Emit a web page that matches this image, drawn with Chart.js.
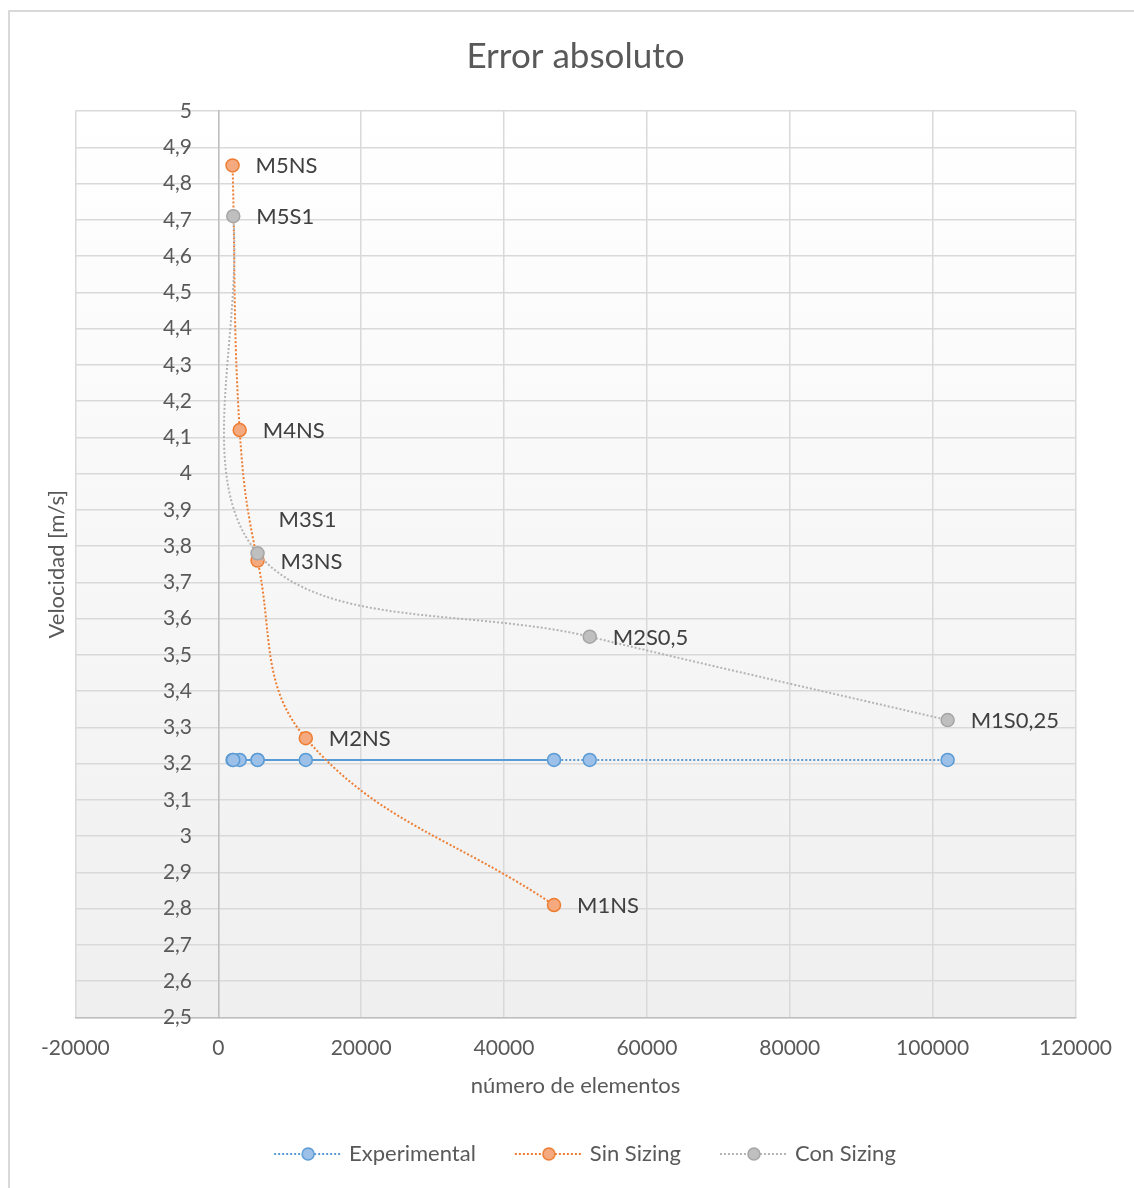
<!DOCTYPE html>
<html>
<head>
<meta charset="utf-8">
<title>Error absoluto</title>
<script src="https://cdn.jsdelivr.net/npm/chart.js@4.4.1/dist/chart.umd.min.js"></script>
<style>
  html, body { margin: 0; padding: 0; background: #fff; overflow: hidden; }
  #wrap { position: relative; width: 1134px; height: 1188px; }
  #frame { position: absolute; left: 8px; top: 10px; width: 1140px; height: 1200px;
           border: 2px solid #d9d9d9; box-sizing: border-box; pointer-events: none; }
  canvas { display: block; }
</style>
</head>
<body>
<div id="wrap">
  <canvas id="chart" width="1134" height="1188"></canvas>
  <div id="frame"></div>
</div>
<script>
// --- datos ---
const sinX      = [2000, 3000, 5500, 12250, 47000];
const sinY      = [4.85, 4.12, 3.76, 3.27, 2.81];
const sinLabels = ['M5NS', 'M4NS', 'M3NS', 'M2NS', 'M1NS'];

const conX      = [2100, 5500, 52000, 102100];
const conY      = [4.71, 3.78, 3.55, 3.32];
const conLabels = ['M5S1', 'M3S1', 'M2S0,5', 'M1S0,25'];

const expX      = [2000, 3000, 5500, 12250, 47000, 2100, 5500, 52000, 102100];
const expY      = [3.21, 3.21, 3.21, 3.21, 3.21, 3.21, 3.21, 3.21, 3.21];

const seriesNames = ['Experimental', 'Sin Sizing', 'Con Sizing'];

const FONT = 'Lato, "Open Sans", sans-serif';
const TEXT = '#595959';

const toPoints = (xs, ys) => xs.map((x, i) => ({ x, y: ys[i] }));

// muestra de leyenda: línea punteada con el marcador en el centro
function legendSample(line, fill, border) {
  const c = document.createElement('canvas');
  c.width = 91; c.height = 16;
  const g = c.getContext('2d');
  g.strokeStyle = line;
  g.lineWidth = 2;
  g.setLineDash([2, 2]);
  g.beginPath(); g.moveTo(23, 8); g.lineTo(91, 8); g.stroke();
  g.setLineDash([]);
  g.beginPath(); g.arc(57, 8, 6, 0, Math.PI * 2);
  g.fillStyle = fill; g.fill();
  g.lineWidth = 1.5; g.strokeStyle = border; g.stroke();
  return c;
}

const colors = [
  { line: '#5b9bd5', fill: '#9cc0e8', border: '#5b9bd5' },
  { line: '#ed7d31', fill: '#f4a97f', border: '#ed7d31' },
  { line: '#b4b4b4', fill: '#bfbfbf', border: '#a5a5a5' }
];
const samples = colors.map(c => legendSample(c.line, c.fill, c.border));

// fondo degradado del área de trazado
const plotBackground = {
  id: 'plotBackground',
  beforeDraw(chart) {
    const { ctx, chartArea: a } = chart;
    const grad = ctx.createLinearGradient(0, a.top, 0, a.bottom);
    grad.addColorStop(0, '#ffffff');
    grad.addColorStop(1, '#efefef');
    ctx.save();
    ctx.fillStyle = grad;
    ctx.fillRect(a.left, a.top, a.right - a.left, a.bottom - a.top);
    ctx.restore();
  }
};

// etiquetas de cada punto (nombre de la malla)
const pointLabels = {
  id: 'pointLabels',
  afterDatasetsDraw(chart, args, opts) {
    const { ctx } = chart;
    ctx.save();
    ctx.font = '22px ' + FONT;
    ctx.fillStyle = '#404040';
    ctx.textAlign = 'left';
    ctx.textBaseline = 'middle';
    chart.data.datasets.forEach((ds, di) => {
      if (!ds.pointNames) return;
      const meta = chart.getDatasetMeta(di);
      meta.data.forEach((pt, i) => {
        const off = (opts.offsets[ds.pointNames[i]]) || opts.offset;
        ctx.fillText(ds.pointNames[i], pt.x + off[0], pt.y + off[1]);
      });
    });
    ctx.restore();
  }
};

const dotted = { borderWidth: 2, borderDash: [2, 2], pointRadius: 6.5, pointHoverRadius: 6.5, pointBorderWidth: 1.5 };

new Chart(document.getElementById('chart'), {
  type: 'scatter',
  data: {
    datasets: [
      {
        label: seriesNames[0], data: toPoints(expX, expY), yAxisID: 'y', order: 3,
        showLine: true, tension: 0, ...dotted,
        // el tramo de vuelta se superpone y se ve continuo
        segment: { borderDash: c => (c.p1.parsed.x < c.p0.parsed.x ? [] : undefined) },
        borderColor: colors[0].line, pointBackgroundColor: colors[0].fill, pointBorderColor: colors[0].border
      },
      {
        label: seriesNames[1], data: toPoints(sinX, sinY), yAxisID: 'y', order: 2, pointNames: sinLabels,
        showLine: true, tension: 0.4, ...dotted,
        borderColor: colors[1].line, pointBackgroundColor: colors[1].fill, pointBorderColor: colors[1].border
      },
      {
        label: seriesNames[2], data: toPoints(conX, conY), yAxisID: 'y', order: 1, pointNames: conLabels,
        showLine: true, tension: 0.36, ...dotted,
        borderColor: colors[2].line, pointBackgroundColor: colors[2].fill, pointBorderColor: colors[2].border
      }
    ]
  },
  options: {
    responsive: false,
    animation: false,
    devicePixelRatio: 1,
    layout: { padding: { left: 26, right: 58.5, top: 0, bottom: 13 } },
    scales: {
      x: {
        type: 'linear', position: 'bottom', min: -20000, max: 120000,
        grid: { color: '#d9d9d9', lineWidth: 1.5, drawTicks: false },
        border: { color: '#bfbfbf', width: 1.5 },
        ticks: { stepSize: 20000, padding: 18, maxRotation: 0, color: TEXT,
                 font: { family: FONT, size: 21 }, callback: v => String(v) },
        title: { display: true, text: 'número de elementos', color: TEXT,
                 font: { family: FONT, size: 22 }, padding: { top: -6, bottom: 24 } }
      },
      y: {
        type: 'linear', position: { x: 0 }, min: 2.5, max: 5,
        grid: { color: '#d9d9d9', lineWidth: 1.5, drawTicks: false },
        border: { color: '#bfbfbf', width: 1.5 },
        ticks: { stepSize: 0.1, autoSkip: false, color: TEXT,
                 font: { family: FONT, size: 21 },
                 callback: v => String(Math.round(v * 10) / 10).replace('.', ',') + '\u2003\u2002' }
      },
      yTitle: {
        type: 'linear', position: 'left', min: 2.5, max: 5,
        grid: { display: false }, border: { display: false }, ticks: { display: false },
        title: { display: true, text: 'Velocidad [m/s]', color: TEXT,
                 font: { family: FONT, size: 22 }, padding: { top: 18, bottom: -3 } }
      }
    },
    plugins: {
      title: {
        display: true, text: 'Error absoluto', color: TEXT, fullSize: false,
        font: { family: FONT, size: 35, weight: 'normal' },
        padding: { top: 36, bottom: 33 }
      },
      legend: {
        position: 'bottom', fullSize: false,
        labels: {
          usePointStyle: true, pointStyleWidth: 83, boxHeight: 16, padding: 20,
          color: TEXT, font: { family: FONT, size: 22 },
          sort: (a, b) => a.datasetIndex - b.datasetIndex,
          generateLabels(chart) {
            const items = Chart.defaults.plugins.legend.labels.generateLabels(chart);
            items.forEach(it => { it.pointStyle = samples[it.datasetIndex]; });
            return items;
          }
        }
      },
      tooltip: { enabled: false },
      pointLabels: {
        offset: [23, 1],
        offsets: { 'M3S1': [21, -33] }
      }
    }
  },
  plugins: [plotBackground, pointLabels]
});
</script>
</body>
</html>
